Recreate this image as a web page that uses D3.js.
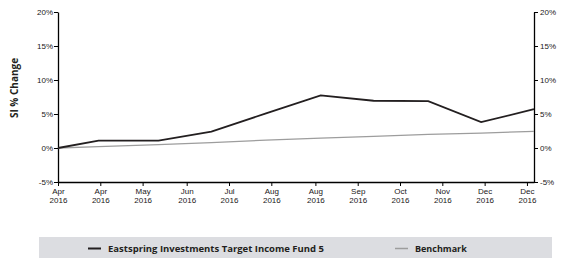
<!DOCTYPE html>
<html><head><meta charset="utf-8">
<script src="https://cdn.jsdelivr.net/npm/d3@7"></script>
<style>
body{margin:0;background:#fff;}
svg{display:block;font-family:"Open Sans",sans-serif;}
</style></head><body>
<svg id="c" width="566" height="258"></svg>
<script>
const dates = ["2016-04-04","2016-04-27","2016-05-31","2016-06-30","2016-07-31","2016-08-31","2016-09-30","2016-10-31","2016-11-30","2016-12-30"];
const fundValues = [0, 1.07, 1.07, 2.4, 5.1, 7.75, 6.95, 6.9, 3.8, 5.7];
const benchmarkValues = [0, 0.2, 0.5, 0.8, 1.15, 1.45, 1.7, 2.0, 2.2, 2.45];
const tickDates = ["2016-04-04","2016-04-28","2016-05-22","2016-06-16","2016-07-10","2016-08-03","2016-08-28","2016-09-21","2016-10-15","2016-11-08","2016-12-02","2016-12-26"];
const yTicks = [-5, 0, 5, 10, 15, 20];
const seriesNames = ["Eastspring Investments Target Income Fund 5", "Benchmark"];
const seriesColors = ["#231f20", "#9d9d9d"];

const parse = d3.timeParse("%Y-%m-%d");
const svg = d3.select("#c");
const m = {l:58, r:534, t:12, b:182};
const x = d3.scaleTime().domain([parse(dates[0]), parse(dates[dates.length-1])]).range([m.l, m.r]);
const y = d3.scaleLinear().domain([-5, 20]).range([m.b, m.t]);

const fmtM = d3.timeFormat("%b"), fmtY = d3.timeFormat("%Y");
const fs = "8px";

// Left axis
const gl = svg.append("g").attr("transform", `translate(${m.l},0)`)
  .call(d3.axisLeft(y).tickValues(yTicks).tickFormat(d => d + "%").tickSize(4).tickSizeOuter(0));
// Right axis
const gr = svg.append("g").attr("transform", `translate(${m.r},0)`)
  .call(d3.axisRight(y).tickValues(yTicks).tickFormat(d => d + "%").tickSize(4).tickSizeOuter(0));
// Bottom axis
const gb = svg.append("g").attr("transform", `translate(0,${m.b})`)
  .call(d3.axisBottom(x).tickValues(tickDates.map(parse)).tickFormat("").tickSize(4).tickSizeOuter(0));
gb.selectAll(".tick").append("text")
  .attr("fill", "#1a1718").attr("text-anchor", "middle").style("font-size", fs)
  .each(function(d){
    const t = d3.select(this);
    t.append("tspan").attr("x", 0).attr("y", 11.5).text(fmtM(d));
    t.append("tspan").attr("x", 0).attr("y", 21).text(fmtY(d));
  });
[gl, gr, gb].forEach(g => {
  g.select(".domain").attr("stroke", "#000").attr("stroke-width", 1.3);
  g.selectAll(".tick line").attr("stroke", "#000").attr("stroke-width", 1);
  g.selectAll(".tick text").attr("fill", "#1a1718").style("font-size", fs).attr("font-family", null);
});
gl.selectAll(".tick text").attr("x", -5);
gr.selectAll(".tick text").attr("x", 6);

// Y title
svg.append("text").attr("transform", `translate(18,88) rotate(-90)`)
  .attr("text-anchor", "middle").style("font-size", "10px").style("font-weight", "bold")
  .attr("fill", "#231f20").text("SI % Change");

// Lines
const line = d3.line().x((d,i) => x(parse(dates[i]))).y(d => y(d));
svg.append("path").datum(benchmarkValues).attr("d", line).attr("fill", "none")
  .attr("stroke", seriesColors[1]).attr("stroke-width", 1.3);
svg.append("path").datum(fundValues).attr("d", line).attr("fill", "none")
  .attr("stroke", seriesColors[0]).attr("stroke-width", 1.8).attr("stroke-linejoin", "miter");

// Legend
svg.append("rect").attr("x", 39).attr("y", 237).attr("width", 513).attr("height", 21).attr("fill", "#dcdde1");
const legX = [88, 395];
const legFs = ["9.5px", "9px"];
seriesNames.forEach((n, i) => {
  svg.append("line").attr("x1", legX[i]).attr("x2", legX[i] + 13).attr("y1", 248.5).attr("y2", 248.5)
    .attr("stroke", seriesColors[i]).attr("stroke-width", i === 0 ? 2 : 1.5);
  svg.append("text").attr("x", legX[i] + 20).attr("y", 251.5).style("font-size", legFs[i])
    .style("font-weight", "bold").attr("fill", "#231f20").text(n);
});
</script></body></html>
